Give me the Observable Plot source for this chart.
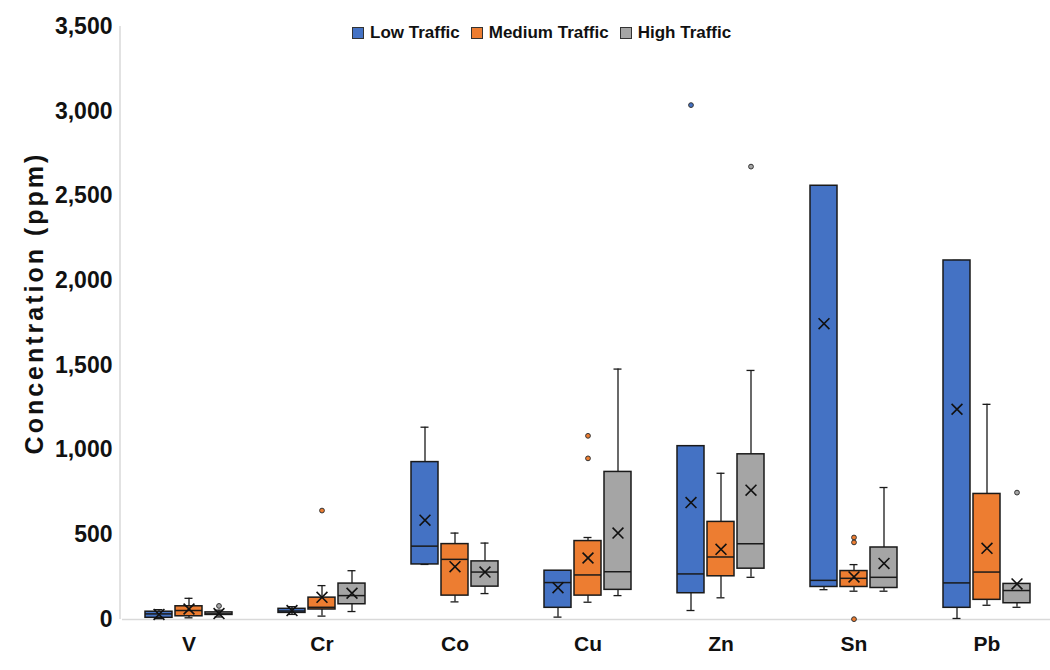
<!DOCTYPE html>
<html>
<head>
<meta charset="utf-8">
<script src="https://cdn.jsdelivr.net/npm/d3@7"></script>
<script src="https://cdn.jsdelivr.net/npm/@observablehq/plot@0.6"></script>
<style>
  body { margin: 0; background: #fff; }
  #wrap { position: relative; width: 1050px; height: 670px; overflow: hidden; font-family: "Liberation Sans", Arial, sans-serif; }
  #legend { position: absolute; top: 23px; left: 352px; display: flex; align-items: center; font-weight: bold; font-size: 17px; color: #111; }
  #legend .item { display: flex; align-items: center; margin-right: 11px; }
  #legend .sw { width: 10px; height: 10px; border: 1px solid #333; margin-right: 6px; }
</style>
</head>
<body>
<div id="wrap"><div id="legend"></div></div>
<script>
const elements = ["V", "Cr", "Co", "Cu", "Zn", "Sn", "Pb"];
const levels = ["Low Traffic", "Medium Traffic", "High Traffic"];
const colors = ["#4472C4", "#ED7D31", "#A5A5A5"];
const yTicks = [0, 500, 1000, 1500, 2000, 2500, 3000, 3500];

// per element: [min, q1, median, q3, max, mean]
const lowTraffic = [
  [5, 10, 33, 46, 58, 30],
  [30, 39, 50, 63, 76, 53],
  [325, 325, 433, 929, 1135, 586],
  [14, 69, 218, 288, 288, 188],
  [53, 155, 269, 1023, 1023, 690],
  [176, 192, 231, 2560, 2560, 1746],
  [6, 69, 216, 2119, 2119, 1241]
];
const mediumTraffic = [
  [10, 19, 53, 78, 125, 62],
  [20, 59, 72, 129, 200, 131],
  [104, 141, 355, 445, 510, 312],
  [102, 141, 263, 463, 484, 363],
  [128, 255, 369, 576, 863, 414],
  [167, 192, 243, 286, 324, 251],
  [84, 116, 280, 741, 1270, 420]
];
const highTraffic = [
  [15, 27, 33, 42, 55, 35],
  [47, 90, 141, 212, 288, 155],
  [153, 194, 280, 343, 451, 280],
  [141, 175, 282, 871, 1478, 510],
  [249, 300, 447, 975, 1470, 763],
  [167, 186, 249, 425, 779, 331],
  [72, 96, 171, 210, 210, 210]
];
// outliers: [element, level index, value]
const outlierList = [
  ["V", 2, 80],
  ["Cr", 1, 643],
  ["Cu", 1, 1084],
  ["Cu", 1, 951],
  ["Zn", 0, 3036],
  ["Zn", 2, 2673],
  ["Sn", 1, 484],
  ["Sn", 1, 455],
  ["Sn", 1, 2],
  ["Pb", 2, 749]
];

const series = [lowTraffic, mediumTraffic, highTraffic];
const rows = [];
series.forEach((s, li) => s.forEach((v, ei) => rows.push({
  element: elements[ei], level: levels[li],
  min: v[0], q1: v[1], median: v[2], q3: v[3], max: v[4], mean: v[5]
})));
const outliers = outlierList.map(([e, l, v]) => ({element: e, level: levels[l], value: v}));

const ink = "#1a1a1a";
const chart = Plot.plot({
  width: 1050,
  height: 670,
  marginLeft: 120,
  marginRight: -5,
  marginTop: 26,
  marginBottom: 51,
  style: {fontFamily: "'Liberation Sans', Arial, sans-serif", fontWeight: "bold", color: "#111", overflow: "hidden"},
  fx: {domain: elements, padding: 0},
  x: {domain: levels, axis: null, paddingInner: 0.09, paddingOuter: 0.73},
  y: {domain: [0, 3500]},
  color: {domain: levels, range: colors},
  marks: [
    Plot.ruleY([0], {stroke: "#d9d9d9", strokeWidth: 1.5}),
    Plot.axisY({ticks: yTicks, tickFormat: d3.format(","), tickSize: 0, tickPadding: 10, fontSize: 23, label: null}),
    Plot.axisY({ticks: [], label: "Concentration (ppm)", labelAnchor: "center", labelArrow: "none", labelOffset: 97, fontSize: 25}),
    Plot.axisFx({anchor: "bottom", tickSize: 0, tickPadding: 17, fontSize: 21, label: null}),
    Plot.ruleX(rows, {fx: "element", x: "level", y1: "min", y2: "max", stroke: ink, strokeWidth: 1.3}),
    Plot.tickY(rows, {fx: "element", x: "level", y: "min", stroke: ink, strokeWidth: 1.3, insetLeft: 9.5, insetRight: 9.5}),
    Plot.tickY(rows, {fx: "element", x: "level", y: "max", stroke: ink, strokeWidth: 1.3, insetLeft: 9.5, insetRight: 9.5}),
    Plot.rectY(rows, {fx: "element", x: "level", y1: "q1", y2: "q3", fill: "level", stroke: ink, strokeWidth: 1.5}),
    Plot.tickY(rows, {fx: "element", x: "level", y: "median", stroke: ink, strokeWidth: 1.5}),
    Plot.dot(rows, {fx: "element", x: "level", y: "mean", symbol: "times", r: 5, stroke: "#111", strokeWidth: 1.6}),
    Plot.dot(outliers, {fx: "element", x: "level", y: "value", r: 2.4, fill: "level", stroke: "#333", strokeWidth: 1})
  ]
});

// left axis line drawn from the plot's own scales
try {
  const fxs = chart.scale("fx");
  const ys = chart.scale("y");
  const x0 = fxs.range[0];
  d3.select(chart).append("line")
    .attr("x1", x0).attr("x2", x0)
    .attr("y1", ys.range[0]).attr("y2", ys.range[1])
    .attr("stroke", "#d9d9d9").attr("stroke-width", 1.5);
} catch (e) {}

// widen and lift the y-axis title a little
d3.select(chart).selectAll('[aria-label="y-axis label"]').each(function() {
  const g = d3.select(this);
  const t = g.attr("transform") || "";
  g.attr("transform", "translate(0,-20) " + t);
  g.selectAll("text").style("letter-spacing", "3px");
});

document.getElementById("wrap").prepend(chart);

const legend = d3.select("#legend");
levels.forEach((l, i) => {
  const it = legend.append("div").attr("class", "item");
  it.append("div").attr("class", "sw").style("background", colors[i]);
  it.append("span").text(l);
});
</script>
</body>
</html>
